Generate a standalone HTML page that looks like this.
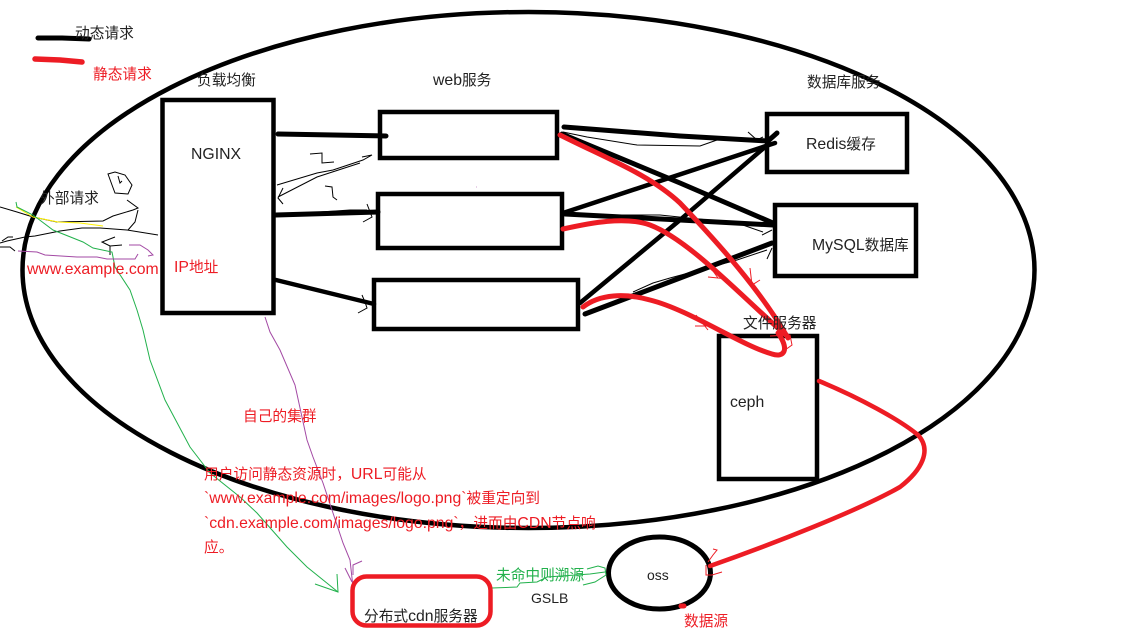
<!DOCTYPE html>
<html>
<head>
<meta charset="utf-8">
<style>
html,body{margin:0;padding:0;background:#fff;width:1140px;height:644px;overflow:hidden}
svg{display:block}
text{font-family:"Liberation Sans","Noto Sans CJK SC",sans-serif;font-size:14.7px;fill:#222}
tspan.l{font-size:15.8px}
.r{fill:#ed1c24}
.g{fill:#22b14c}
</style>
</head>
<body>
<svg width="1140" height="644" viewBox="0 0 1140 644" xmlns="http://www.w3.org/2000/svg">
<rect width="1140" height="644" fill="#fff"/>
<g fill="none" stroke="#000" stroke-linecap="round" stroke-linejoin="round">
<!-- outer ellipse -->
<ellipse cx="528.5" cy="270" rx="506" ry="258" stroke-width="4.5"/>
<!-- legend -->
<path d="M38 38 L62 38 L89 39" stroke-width="5"/>
<!-- boxes -->
<g stroke-linejoin="miter" stroke-width="4.5" fill="#fff">
<rect x="162.5" y="100" width="111" height="213"/>
<rect x="380" y="112" width="177" height="46"/>
<rect x="378" y="194" width="184" height="54"/>
<rect x="374" y="280" width="204" height="49"/>
<rect x="767" y="114" width="140" height="58"/>
<rect x="775" y="205" width="141" height="71"/>
<rect x="719" y="336" width="98" height="143"/>
</g>
<ellipse cx="659.5" cy="573" rx="51" ry="36" stroke-width="5"/>
<!-- nginx to web -->
<path d="M278 134 L386 136" stroke-width="5"/>
<path d="M276 215 L378 212" stroke-width="5"/>
<path d="M276 280 L374 304" stroke-width="4.5"/>
<!-- web to db -->
<path d="M564 127 L680 136 L768 141 L777 133" stroke-width="5"/>
<path d="M562 134 L680 183 L773 223" stroke-width="5"/>
<path d="M565 214 L680 220 L773 225" stroke-width="5"/>
<path d="M563 213 L775 143" stroke-width="4.5"/>
<path d="M580 303 L680 220 L765 147" stroke-width="4.5"/>
<path d="M585 314 L680 278 L772 243" stroke-width="5"/>
</g>
<!-- thin black scribbles -->
<g fill="none" stroke="#000" stroke-width="1">
<path d="M0 207 L17 212 L33 217 L57 222 L103 221 L113 216 L133 210 L138 208 L127 200"/>
<path d="M138 210 L135 222 L128 230"/>
<path d="M0 243 L7 241 L25 237 L35 236 L60 231 L82 228 L100 228 L127 230 L158 235"/>
<path d="M2 241 L8 237 L13 237 M0 247 L10 247 L15 251"/>
<path d="M108 174 L112 185 L115 193 L128 194 L132 185 L125 175 L115 172 Z M118 176 L120 183 L122 181"/>
<path d="M115 237 L102 242 L110 246 L122 245 M110 246 L110 255"/>
<path d="M277 185 L317 173 L333 170 L363 160 L372 155 L362 157 M278 197 L317 177 L360 163"/>
<path d="M283 188 L278 198 L283 204"/>
<path d="M310 154 L322 153 L322 163 L334 162"/>
<path d="M325 186 L332 187 L333 197 L337 200"/>
<path d="M277 215 L350 210 L367 210 M367 204 L372 217 L363 222"/>
<path d="M362 295 L365 302 L367 308 L358 313"/>
<path d="M563 132 L587 137 L637 145 L700 146 L717 140"/>
<path d="M748 132 L757 140 L763 137"/>
<path d="M563 215 L660 215 L737 223 L763 232 M772 230 L762 235"/>
<path d="M633 292 L653 283 L670 278 L737 260 L767 250 M772 248 L767 259"/>
</g>
<!-- yellow, green, purple thin lines -->
<g fill="none" stroke-width="1">
<path d="M16 207 L33 217 L58 222 L80 223 L103 226" stroke="#fff200"/>
<path d="M16 202 L17 207 L33 215 L53 230 L83 242 L93 248 L112 252 L115 267 L130 290 L137 310 L143 330 L150 360 L165 400 L190 447 L210 473 L240 497 L257 513 L287 547 L307 567 L338 592" stroke="#22b14c"/>
<path d="M315 584 L338 592 L337 574" stroke="#22b14c"/>
<path d="M18 251 L37 252 L45 255 L77 257 L97 257 L107 259 L135 259 L138 254 M129 245 L140 245 L148 250 L153 255 L148 256" stroke="#a349a4"/>
<path d="M265 317 L270 332 L280 350 L295 385 L307 440 L313 457 L323 483 L333 513 L343 543 L350 560 L353 587 M345 568 L352 582 M362 561 L353 565 L353 575" stroke="#a349a4"/>
<path d="M492 588 L517 587 L520 583 L537 582 L547 577 L590 574 L605 572 M587 569 L598 566 L605 568 L606 575 L595 582 L583 585" stroke="#22b14c"/>
<path d="M476.5 187 L477 187" stroke="#a349a4"/>
</g>
<!-- red thick lines -->
<g fill="none" stroke="#ed1c24" stroke-linecap="round" stroke-linejoin="round">
<path d="M35 59 L60 60 L82 62" stroke-width="5.5"/>
<rect x="352.5" y="576.5" width="138" height="49" rx="14" stroke-width="4.5"/>
<path d="M560 135 C610 160 650 175 680 203 C720 245 760 290 788 338" stroke-width="5"/>
<path d="M563 229 C590 223 625 216 650 225 C690 240 745 300 787 336" stroke-width="5"/>
<path d="M583 307 C600 294 625 293 650 300 C690 310 740 345 772 354 C784 358 790 350 778 333" stroke-width="5"/>
<path d="M819 381 C860 398 900 420 918 435 C932 450 922 470 900 487 C860 510 770 545 710 566" stroke-width="4.5"/>
<path d="M681 606 L684 606" stroke-width="5"/>
</g>
<!-- thin red scribbles -->
<g fill="none" stroke="#ed1c24" stroke-width="1">
<path d="M708 264 L718 278 M708 277 L728 279 M750 268 L752 285 L760 280"/>
<path d="M696 315 L708 330 M695 326 L715 326"/>
<path d="M770 336 L790 335 L792 345 L785 350"/>
<path d="M706 565 L706 575 L712 575 L722 572 M708 562 L713 555 L717 550 L713 549"/>
</g>
<!-- labels -->
<text x="75" y="38">动态请求</text>
<text x="93" y="79" class="r">静态请求</text>
<text x="197" y="85">负载均衡</text>
<text x="433" y="85"><tspan class="l">web</tspan>服务</text>
<text x="807" y="87">数据库服务</text>
<text x="191" y="159"><tspan class="l">NGINX</tspan></text>
<text x="40" y="203">外部请求</text>
<text x="27" y="274" class="r"><tspan class="l">www.example.com</tspan></text>
<text x="174" y="272" class="r"><tspan class="l">IP</tspan>地址</text>
<text x="806" y="149"><tspan class="l">Redis</tspan>缓存</text>
<text x="812" y="250"><tspan class="l">MySQL</tspan>数据库</text>
<text x="743" y="328">文件服务器</text>
<text x="730" y="407"><tspan class="l">ceph</tspan></text>
<text x="243" y="421" class="r">自己的集群</text>
<text x="204" y="479" class="r">用户访问静态资源时，<tspan class="l">URL</tspan>可能从</text>
<text x="204" y="503" class="r"><tspan class="l">`www.example.com/images/logo.png`</tspan>被重定向到</text>
<text x="204" y="528" class="r"><tspan class="l">`cdn.example.com/images/logo.png`</tspan>，进而由<tspan class="l">CDN</tspan>节点响</text>
<text x="204" y="552" class="r">应。</text>
<text x="364" y="621">分布式<tspan class="l">cdn</tspan>服务器</text>
<text x="496" y="580" class="g">未命中则溯源</text>
<text x="531" y="603" style="font-size:14px">GSLB</text>
<text x="647" y="580" style="font-size:14px">oss</text>
<text x="684" y="626" class="r">数据源</text>
</svg>
</body>
</html>
